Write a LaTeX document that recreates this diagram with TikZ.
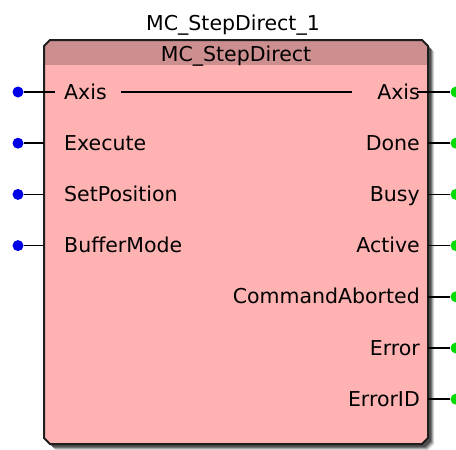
\documentclass[tikz,border=0pt]{standalone}
\usepackage{fontspec}
\setmainfont{DejaVu Sans}
\definecolor{bodypink}{RGB}{255,178,178}
\definecolor{headpink}{RGB}{204,142,142}
\definecolor{pinblue}{RGB}{0,0,230}
\definecolor{pingreen}{RGB}{0,220,0}
\definecolor{edgegray}{RGB}{30,30,30}
\begin{document}
\begin{tikzpicture}[x=1pt,y=-1pt,
  lbl/.style={inner sep=0pt,font=\fontsize{20.5}{24}\selectfont},
  inlbl/.style={lbl,anchor=base west},
  outlbl/.style={lbl,anchor=base east},
  indot/.style={circle,fill=pinblue,inner sep=0pt,minimum size=11pt},
  outdot/.style={circle,fill=pingreen,inner sep=0pt,minimum size=11pt},
  pin/.style={draw=black,line width=1.5pt},
  axisline/.style={draw=black,line width=1.5pt}]
\useasboundingbox (0,0) rectangle (456,450);
% shadow
\foreach \o/\op in {6/0.15,5/0.2,4/0.3,3/0.35}{
  \fill[black,opacity=\op,shift={(\o,\o)}] (50,40) -- (422,40) -- (428,46) -- (428,438) -- (422,444) -- (50,444) -- (44,438) -- (44,46) -- cycle;
}
% body
\fill[bodypink] (50,40) -- (422,40) -- (428,46) -- (428,438) -- (422,444) -- (50,444) -- (44,438) -- (44,46) -- cycle;
\begin{scope}
\clip (50,40) -- (422,40) -- (428,46) -- (428,438) -- (422,444) -- (50,444) -- (44,438) -- (44,46) -- cycle;
\fill[headpink] (40,38) rectangle (432,65);
\end{scope}
\draw[edgegray,line width=2pt] (50,40) -- (422,40) -- (428,46) -- (428,438) -- (422,444) -- (50,444) -- (44,438) -- (44,46) -- cycle;
% titles
\node[lbl,anchor=base] (inst) at (233,30) {MC\_StepDirect\_1};
\node[lbl,anchor=base] (type) at (236,61) {MC\_StepDirect};
% left pins
\foreach \n/\t/\y in {ax/Axis/92,ex/Execute/143.2,sp/SetPosition/194.4,bm/BufferMode/245.6}{
  \node[indot] (d\n) at (18,\y) {};
  \coordinate (e\n) at (44,\y);
  \draw[pin] (d\n) -- (e\n);
  \node[inlbl] (l\n) at (64,\y+7) {\t};
}
\coordinate (eaxx) at (55,92);
\draw[pin] (eax) -- (eaxx);
% right pins
\foreach \n/\t/\y in {ax/Axis/92,dn/Done/143.2,bs/Busy/194.4,ac/Active/245.6,ca/CommandAborted/296.8,er/Error/348,ei/ErrorID/399.2}{
  \node[outdot] (o\n) at (456,\y) {};
  \coordinate (f\n) at (428,\y);
  \draw[pin] (f\n) -- (o\n);
  \node[outlbl] (r\n) at (420,\y+7) {\t};
}
\coordinate (faxx) at (417,92);
\draw[pin] (faxx) -- (fax);
% axis pass-through line
\coordinate (ma) at (121,92);
\coordinate (mb) at (352,92);
\draw[axisline] (ma) -- (mb);
\end{tikzpicture}
\end{document}
